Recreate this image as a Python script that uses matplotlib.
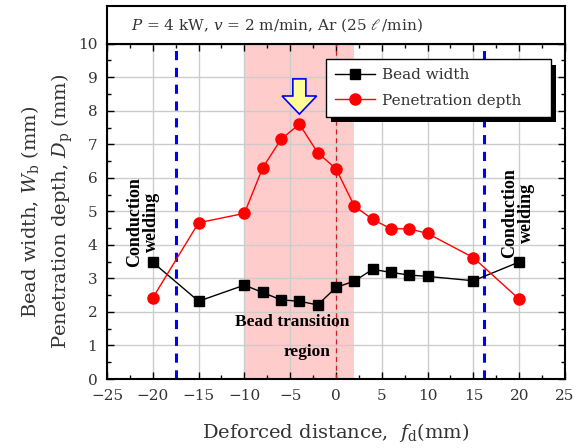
import numpy as np
import matplotlib
matplotlib.use('Agg')
import matplotlib.pyplot as plt
from matplotlib.patches import FancyArrow, Rectangle
from matplotlib.ticker import MultipleLocator

# data
dist = [-20, -15, -10, -8, -6, -4, -2, 0, 2, 4, 6, 8, 10, 15, 20]
bead_width = [3.48, 2.32, 2.80, 2.58, 2.36, 2.32, 2.21, 2.73, 2.92, 3.27, 3.18, 3.10, 3.06, 2.93, 3.49]
pen_depth = [2.42, 4.66, 4.94, 6.30, 7.15, 7.60, 6.75, 6.27, 5.16, 4.76, 4.48, 4.48, 4.34, 3.62, 2.38]
transition_region = (-10, 2)
conduction_limits = [-17.5, 16.2]

plt.rcParams['font.family'] = ['DejaVu Serif', 'DejaVu Sans']
plt.rcParams['mathtext.fontset'] = 'dejavuserif'
txt_color = '#333333'

fig = plt.figure(figsize=(5.79, 4.48), dpi=100)
ax = fig.add_axes([0.1848, 0.154, 0.791, 0.7485])
top = fig.add_axes([0.1848, 0.9025, 0.791, 0.0842])

# header box with the process conditions
top.set_xticks([])
top.set_yticks([])
for s in top.spines.values():
    s.set_linewidth(1.5)
top.text(0.052, 0.5, r'$P$ = 4 kW, $v$ = 2 m/min, Ar (25 $\ell\,$/min)', transform=top.transAxes,
         va='center', ha='left', fontsize=11, color=txt_color)

ax.axvspan(transition_region[0], transition_region[1], color='#ffcccc', zorder=0.3, lw=0)
ax.set_axisbelow(True)
ax.grid(True, which='major', color='#cccccc', lw=1)

for xc in conduction_limits:
    ax.axvline(xc, color='blue', lw=2.2, ls=(0, (3, 2.5)), zorder=1)
ax.axvline(0, color='#cc2222', lw=0.9, ls=(0, (4, 3)), zorder=1)

ax.plot(dist, bead_width, '-s', color='black', lw=1, ms=7, label='Bead width', zorder=3)
ax.plot(dist, pen_depth, '-o', color='red', lw=1, ms=8, label='Penetration depth', zorder=3)

# arrow pointing at the peak
ax.add_patch(FancyArrow(-4, 8.95, 0, -1.05, width=1.42, head_width=3.78, head_length=0.54,
                        length_includes_head=True, fc='#ffff99', ec='blue', lw=1.2, zorder=4))

ax.text(-21.1, 4.69, 'Conduction\nwelding', rotation=90, ha='center', va='center',
        fontsize=13, fontweight='bold', family='Liberation Serif', linespacing=1.0)
ax.text(19.9, 4.96, 'Conduction\nwelding', rotation=90, ha='center', va='center',
        fontsize=13, fontweight='bold', family='Liberation Serif', linespacing=1.0)
ax.text(-4.8, 1.71, 'Bead transition', ha='center', va='center', fontsize=12.5,
        fontweight='bold', family='Liberation Serif')
ax.text(-3.2, 0.81, 'region', ha='center', va='center', fontsize=12.5,
        fontweight='bold', family='Liberation Serif')

ax.set_xlim(-25, 25)
ax.set_ylim(0, 10)
ax.xaxis.set_major_locator(MultipleLocator(5))
ax.xaxis.set_minor_locator(MultipleLocator(2.5))
ax.yaxis.set_major_locator(MultipleLocator(1))
ax.yaxis.set_minor_locator(MultipleLocator(0.5))
ax.tick_params(which='both', direction='in', top=True, right=True, labelsize=11,
               labelcolor=txt_color, width=1)
ax.tick_params(which='major', length=5)
ax.tick_params(which='minor', length=3)
ax.tick_params(axis='y', pad=7)
ax.tick_params(axis='x', pad=7.5)
for s in ax.spines.values():
    s.set_linewidth(1.5)

ax.set_xlabel(r'Deforced distance,  $f_\mathrm{d}$(mm)', fontsize=14, color=txt_color, labelpad=13)
ax.set_ylabel('Bead width, $W_\\mathrm{b}$ (mm)\nPenetration depth, $D_\\mathrm{p}$ (mm)',
              fontsize=14, color=txt_color, linespacing=1.5)
ax.yaxis.set_label_coords(-0.07, 0.5)

leg = ax.legend(loc='upper left', bbox_to_anchor=(0.478, 0.0, 0.491, 0.954), mode='expand',
                fontsize=11, handlelength=2.6, handletextpad=0.5, labelspacing=0.75,
                frameon=True, fancybox=False, edgecolor='black', framealpha=1,
                borderaxespad=0, borderpad=0.6)
leg.get_frame().set_linewidth(1)
for t in leg.get_texts():
    t.set_color(txt_color)
leg.set_zorder(6)

# hard black drop shadow behind the legend
fig.canvas.draw()
bb = leg.get_frame().get_window_extent().transformed(fig.transFigure.inverted())
dx, dy = 5.5 / fig.bbox.width, 5.5 / fig.bbox.height
ax.add_patch(Rectangle((bb.x0 + dx, bb.y0 - dy), bb.width, bb.height, transform=fig.transFigure,
                       fc='black', ec='none', zorder=5.5, clip_on=False))

fig.savefig('out.png', dpi=100)
